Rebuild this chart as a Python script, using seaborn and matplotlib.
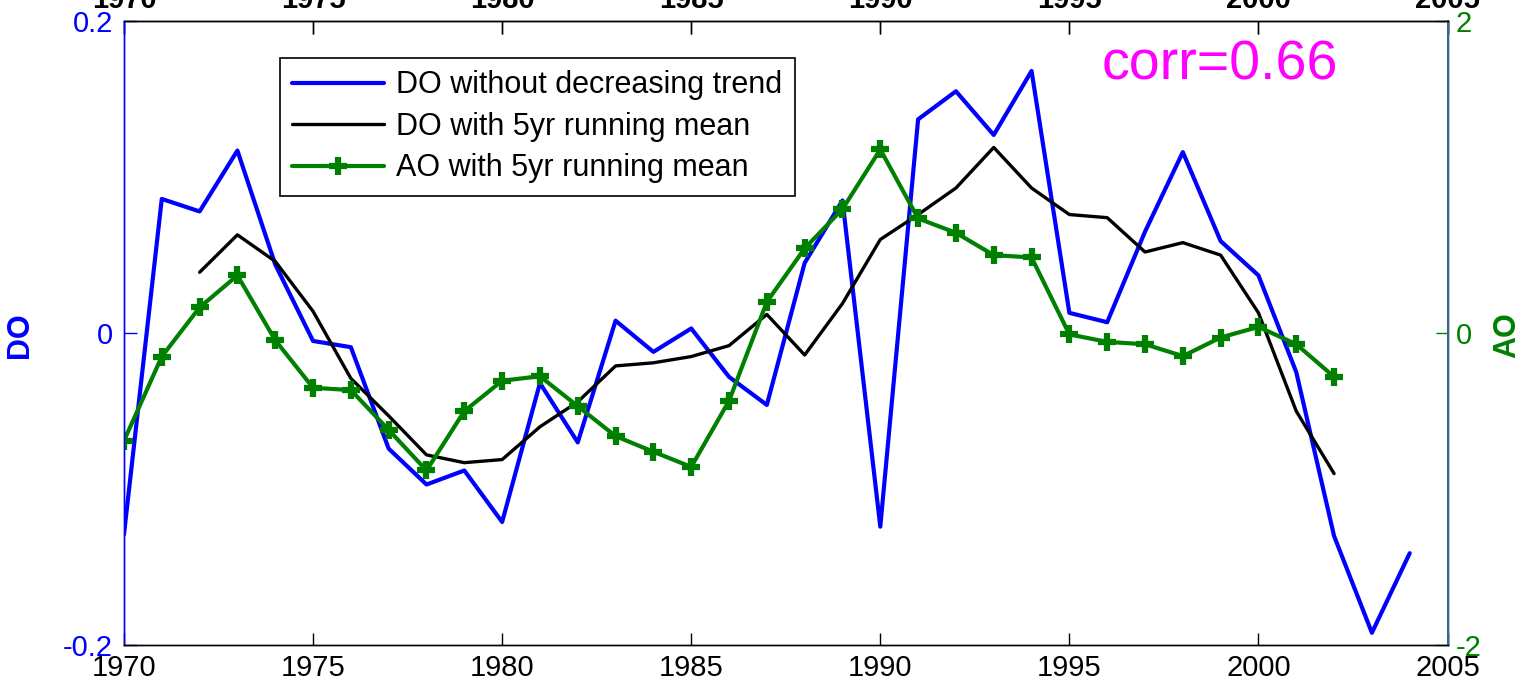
import numpy as np
import pandas as pd
import matplotlib
matplotlib.use("Agg")
import matplotlib.pyplot as plt
import seaborn as sns

# ---- data -------------------------------------------------------------
years_do = list(range(1970, 2005))
do_detrended = [-0.129, 0.086, 0.078, 0.117, 0.044, -0.005, -0.009, -0.074,
                -0.097, -0.088, -0.121, -0.032, -0.070, 0.008, -0.012, 0.003,
                -0.028, -0.046, 0.045, 0.085, -0.124, 0.137, 0.155, 0.127,
                0.168, 0.013, 0.007, 0.065, 0.116, 0.059, 0.037, -0.025,
                -0.130, -0.192, -0.141]

years_run = list(range(1972, 2003))
do_running = [0.039, 0.063, 0.046, 0.014, -0.029, -0.053, -0.078, -0.083,
              -0.081, -0.060, -0.044, -0.021, -0.019, -0.015, -0.008, 0.012,
              -0.014, 0.019, 0.060, 0.076, 0.093, 0.119, 0.093, 0.076,
              0.074, 0.052, 0.058, 0.050, 0.013, -0.050, -0.090]

years_ao = list(range(1970, 2003))
ao_running = [-0.69, -0.15, 0.165, 0.37, -0.045, -0.35, -0.365, -0.62,
              -0.88, -0.50, -0.305, -0.276, -0.468, -0.66, -0.76, -0.857,
              -0.434, 0.20, 0.543, 0.795, 1.177, 0.735, 0.643, 0.50,
              0.485, -0.008, -0.056, -0.071, -0.147, -0.028, 0.04, -0.071,
              -0.28]

xticks = [1970, 1975, 1980, 1985, 1990, 1995, 2000, 2005]
do_ticks = [-0.2, 0, 0.2]
do_ticklabels = ["-0.2", "0", "0.2"]
ao_ticks = [-2, 0, 2]
ao_ticklabels = ["-2", "0", "2"]

labels = ["DO without decreasing trend", "DO with 5yr running mean",
          "AO with 5yr running mean"]
corr_text = "corr=0.66"

# ---- style ------------------------------------------------------------
sns.set_style("white")
plt.rcParams["font.family"] = ["Liberation Sans", "DejaVu Sans"]
plt.rcParams["text.color"] = "black"

BLUE = "#0000ff"
GREEN = "#008000"
MAGENTA = "#ff00ff"
FS = 21

fig = plt.figure(figsize=(15.21, 6.85), dpi=100)
ax = fig.add_axes([0.0815, 0.058, 0.8702, 0.9113])
ax2 = ax.twinx()

df_do = pd.DataFrame({"year": years_do, "val": do_detrended})
df_run = pd.DataFrame({"year": years_run, "val": do_running})
df_ao = pd.DataFrame({"year": years_ao, "val": ao_running})

sns.lineplot(data=df_do, x="year", y="val", ax=ax, color=BLUE, lw=3.0,
             label=labels[0], legend=False)
sns.lineplot(data=df_run, x="year", y="val", ax=ax, color="black", lw=2.4,
             label=labels[1], legend=False)
sns.lineplot(data=df_ao, x="year", y="val", ax=ax2, color=GREEN, lw=3.0,
             marker="+", markersize=13, markeredgewidth=4.5,
             markeredgecolor=GREEN, label=labels[2], legend=False)

# ---- axes -------------------------------------------------------------
ax.set_xlim(1970, 2005)
ax.set_ylim(-0.2, 0.2)
ax2.set_ylim(-2, 2)

ax.set_xticks(xticks)
ax.set_xticklabels([str(v) for v in xticks])
ax.set_yticks(do_ticks)
ax.set_yticklabels(do_ticklabels)
ax2.set_yticks(ao_ticks)
ax2.set_yticklabels(ao_ticklabels)

ax.tick_params(axis="x", direction="in", length=9, width=1.0, pad=6,
               top=True, bottom=True, colors="black", labelsize=FS)
ax.tick_params(axis="y", direction="in", length=9, width=1.0, pad=8,
               colors=BLUE, labelcolor=BLUE, labelsize=FS)
ax2.tick_params(axis="y", direction="in", length=9, width=1.0, pad=6,
                colors=GREEN, labelcolor=GREEN, labelsize=FS)

# top year labels in bold
top = ax.secondary_xaxis("top")
top.set_xticks(xticks)
top.set_xticklabels([str(v) for v in xticks], fontweight="bold")
top.tick_params(axis="x", direction="in", length=9, width=1.0, pad=5,
                labelsize=FS, colors="black")

ax.set_xlabel("")
ax2.set_xlabel("")
ax.set_ylabel("DO", fontsize=22, fontweight="bold", color=BLUE)
ax2.set_ylabel("AO", fontsize=22, fontweight="bold", color=GREEN)
ax.yaxis.set_label_coords(-0.0672, 0.497)
ax2.yaxis.set_label_position("right")
ax2.yaxis.set_label_coords(1.0336, 0.497)

for a in (ax, ax2):
    for s in a.spines.values():
        s.set_linewidth(1.0)
        s.set_color("black")
ax.spines["left"].set_color(BLUE)
ax2.spines["left"].set_color(BLUE)
ax2.spines["right"].set_color("#3a6496")
ax2.spines["right"].set_linewidth(1.5)
top.spines["top"].set_color("black")

ax2.text(0.828, 0.928, corr_text, transform=ax2.transAxes, fontsize=40,
         color=MAGENTA, ha="center", va="center")

# ---- legend -----------------------------------------------------------
handles = ax.get_lines()[:2] + ax2.get_lines()[:1]
leg = ax2.legend(handles, labels, loc="upper left",
                 bbox_to_anchor=(0.118, 0.9407), borderaxespad=0,
                 fontsize=22, frameon=True, fancybox=False, framealpha=1,
                 edgecolor="black", handlelength=3.0, handletextpad=0.4,
                 labelspacing=0.38, borderpad=0.4, labelcolor="black")
leg.get_frame().set_linewidth(1.2)

fig.savefig("out.png", dpi=100)
